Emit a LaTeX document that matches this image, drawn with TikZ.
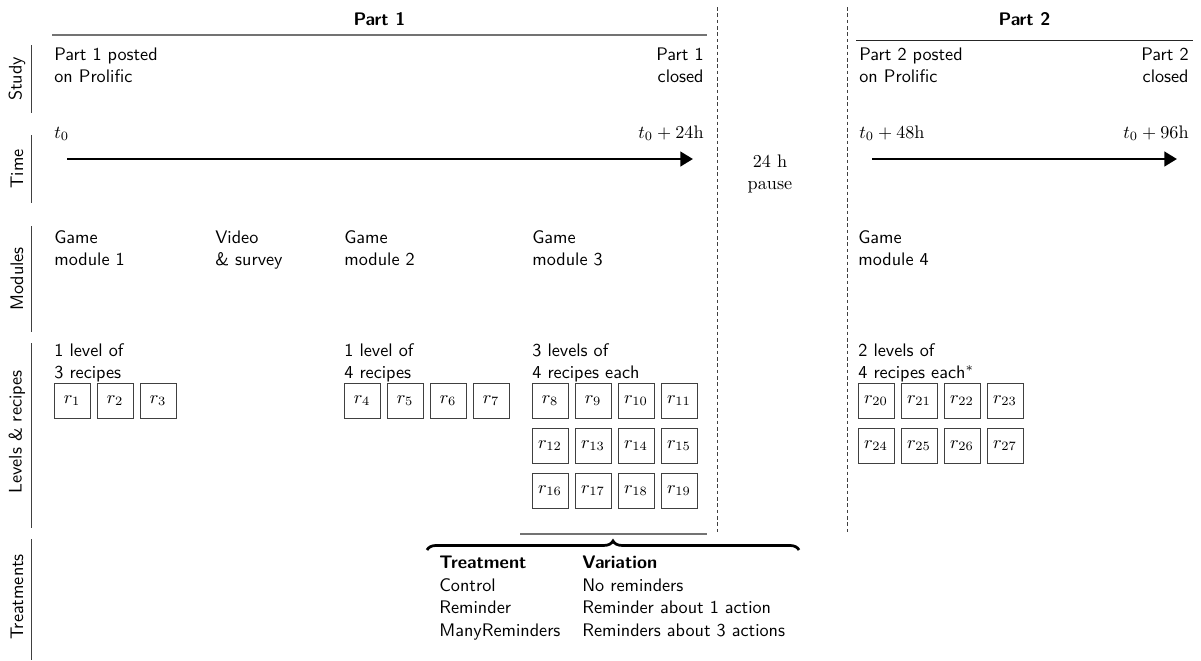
\documentclass[tikz,border=0pt]{standalone}
\usepackage{fontspec}
\usetikzlibrary{arrows.meta,decorations.pathreplacing}
\begin{document}
\begin{tikzpicture}[x=0.55pt,y=-0.55pt,
  txt/.style={inner sep=0pt, align=left, anchor=north west, font=\sffamily},
  txtr/.style={inner sep=0pt, align=right, anchor=north east, font=\sffamily},
  title/.style={inner sep=0pt, anchor=base, font=\sffamily\bfseries},
  rowlab/.style={rotate=90, inner sep=0pt, font=\sffamily},
  sepline/.style={draw=black!75, line width=0.5pt},
  recipe/.style={draw=black!75, line width=0.5pt, minimum width=19.8pt, minimum height=19.25pt, inner sep=0pt},
  timeline/.style={line width=1.6pt, -{Triangle[length=7pt,width=8pt]}},
  divider/.style={draw=black!75, line width=0.5pt, dash pattern=on 2pt off 1.5pt},
  grayrule/.style={draw=black!55, line width=0.7pt},
  darkrule/.style={draw=black!85, line width=0.5pt},
  bracestyle/.style={decorate, decoration={brace, amplitude=5pt}, line width=1.5pt}
]
\useasboundingbox (0,0) rectangle (1201,660);

% row labels and their rules
\node[rowlab] (lstudy) at (17,79) {Study};
\node[rowlab] (ltime) at (17,169) {Time};
\node[rowlab] (lmod) at (17,279) {Modules};
\node[rowlab] (llev) at (17,432) {Levels \& recipes};
\node[rowlab] (ltreat) at (17,597) {Treatments};
\draw[sepline] (31,45) -- (31,113);
\draw[sepline] (31,135) -- (31,203);
\draw[sepline] (31,226) -- (31,332);
\draw[sepline] (31,343) -- (31,528);
\draw[sepline] (31,539) -- (31,660);

% part titles
\node[title] (p1) at (379.5,25) {Part 1};
\node[title] (p2) at (1024.5,25) {Part 2};
\draw[grayrule] (52,35) -- (707,35);
\draw[darkrule] (856,40) -- (1193,40);

% dividers
\draw[divider] (717,7) -- (717,533);
\draw[divider] (847,7) -- (847,533);

% study
\node[txt] (s1) at (54,47.4) {Part 1 posted\\on Prolific};
\node[txtr] (s2) at (704,47.4) {Part 1\\closed};
\node[txt] (s3) at (859,47.4) {Part 2 posted\\on Prolific};
\node[txtr] (s4) at (1189,47.4) {Part 2\\closed};

% time
\node[inner sep=0pt, anchor=base west] (t0) at (54,138) {$t_0$};
\node[inner sep=0pt, anchor=base east] (t24) at (704,138) {$t_0+24\mathrm{h}$};
\node[inner sep=0pt, anchor=base west] (t48) at (859,138) {$t_0+48\mathrm{h}$};
\node[inner sep=0pt, anchor=base east] (t96) at (1189,138) {$t_0+96\mathrm{h}$};
\coordinate (a1s) at (67,159);
\coordinate (a1e) at (693,159);
\coordinate (a2s) at (872,159);
\coordinate (a2e) at (1177,159);
\draw[timeline] (a1s) -- (a1e);
\draw[timeline] (a2s) -- (a2e);
\node[inner sep=0pt, anchor=north, align=center, font=\rmfamily] (pause) at (770,154.4) {24 h\\pause};

% modules
\node[txt] (m1) at (54,230.4) {Game\\module 1};
\node[txt] (mv) at (215,230.4) {Video\\\& survey};
\node[txt] (m2) at (344,230.4) {Game\\module 2};
\node[txt] (m3) at (532,230.4) {Game\\module 3};
\node[txt] (m4) at (858,230.4) {Game\\module 4};

% levels
\node[txt] (l1) at (54,343.4) {1 level of\\3 recipes};
\node[txt] (l2) at (344,343.4) {1 level of\\4 recipes};
\node[txt] (l3) at (532,343.4) {3 levels of\\4 recipes each};
\node[txt] (l4) at (858,343.4) {2 levels of\\4 recipes each$^*$};

% recipes
\foreach \i/\x in {1/72,2/115,3/158}
  \node[recipe] (r\i) at (\x,400.5) {$r_{\i}$};
\foreach \i/\x in {4/362,5/405,6/448,7/491}
  \node[recipe] (r\i) at (\x,400.5) {$r_{\i}$};
\foreach \i/\x in {8/550,9/593,10/636,11/679}
  \node[recipe] (r\i) at (\x,400.5) {$r_{\i}$};
\foreach \i/\x in {12/550,13/593,14/636,15/679}
  \node[recipe] (r\i) at (\x,445.5) {$r_{\i}$};
\foreach \i/\x in {16/550,17/593,18/636,19/679}
  \node[recipe] (r\i) at (\x,490.5) {$r_{\i}$};
\foreach \i/\x in {20/876,21/919,22/962,23/1005}
  \node[recipe] (r\i) at (\x,400.5) {$r_{\i}$};
\foreach \i/\x in {24/876,25/919,26/962,27/1005}
  \node[recipe] (r\i) at (\x,445.5) {$r_{\i}$};

% treatment bracket
\draw[grayrule] (520,534) -- (707,534);
\coordinate (bl) at (427,550);
\coordinate (br) at (799,550);
\draw[bracestyle] (bl) -- (br);
\node[inner sep=0pt, anchor=north west, font=\sffamily] (tab) at (439,552.1)
  {\renewcommand{\arraystretch}{1.04}%
   \begin{tabular}{@{}ll@{}}
   \textbf{Treatment} & \textbf{Variation}\\
   Control & No reminders\\
   Reminder & Reminder about 1 action\\
   ManyReminders & Reminders about 3 actions
   \end{tabular}};
\end{tikzpicture}
\end{document}
